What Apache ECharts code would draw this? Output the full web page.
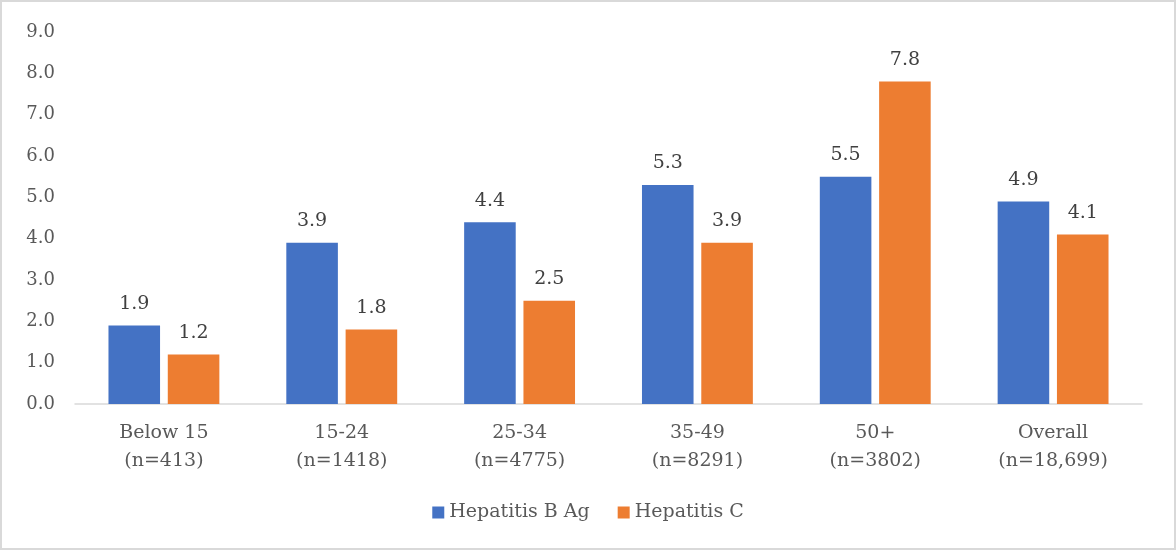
<!DOCTYPE html>
<html>
<head>
<meta charset="utf-8">
<script src="https://cdn.jsdelivr.net/npm/echarts@6/dist/echarts.min.js"></script>
<style>
  html, body { margin: 0; padding: 0; background: #fff; }
  #chart { width: 1172px; height: 546px; border: 2px solid #d9d9d9; }
</style>
</head>
<body>
<div id="chart"></div>
<script>
// Age groups with sample sizes
const categories = ['Below 15\n(n=413)', '15-24\n(n=1418)', '25-34\n(n=4775)', '35-49\n(n=8291)', '50+\n(n=3802)', 'Overall\n(n=18,699)'];
// Prevalence (%) by age group
const hepatitisB = [1.9, 3.9, 4.4, 5.3, 5.5, 4.9];
const hepatitisC = [1.2, 1.8, 2.5, 3.9, 7.8, 4.1];
const seriesNames = ['Hepatitis B Ag', 'Hepatitis C'];

const FONT = '"DejaVu Serif", "Liberation Serif", serif';
const chart = echarts.init(document.getElementById('chart'));

const label = {
  show: true,
  position: 'top',
  distance: 12,
  color: '#404040',
  fontFamily: FONT,
  fontSize: 19,
  formatter: p => p.value.toFixed(1)
};

chart.setOption({
  animation: false,
  textStyle: { fontFamily: FONT },
  grid: { left: 73, right: 32, top: 30, bottom: 144, containLabel: false },
  legend: {
    bottom: 21,
    left: 'center',
    itemWidth: 12,
    itemHeight: 12,
    itemGap: 28,
    icon: 'rect',
    textStyle: { color: '#595959', fontFamily: FONT, fontSize: 19 },
    data: seriesNames
  },
  xAxis: {
    type: 'category',
    data: categories,
    axisLine: { lineStyle: { color: '#d9d9d9', width: 1.5 } },
    axisTick: { show: false },
    axisLabel: { color: '#595959', fontFamily: FONT, fontSize: 19, lineHeight: 28, margin: 15 }
  },
  yAxis: {
    type: 'value',
    min: 0,
    max: 9,
    interval: 1,
    axisLine: { show: false },
    axisTick: { show: false },
    splitLine: { show: false },
    axisLabel: { color: '#595959', fontFamily: FONT, fontSize: 18, margin: 20, formatter: v => v.toFixed(1) }
  },
  series: [
    {
      name: seriesNames[0],
      type: 'bar',
      data: hepatitisB,
      barWidth: '29%',
      barGap: '15%',
      itemStyle: { color: '#4472c4' },
      label
    },
    {
      name: seriesNames[1],
      type: 'bar',
      data: hepatitisC,
      barWidth: '29%',
      itemStyle: { color: '#ed7d31' },
      label
    }
  ]
});
</script>
</body>
</html>
